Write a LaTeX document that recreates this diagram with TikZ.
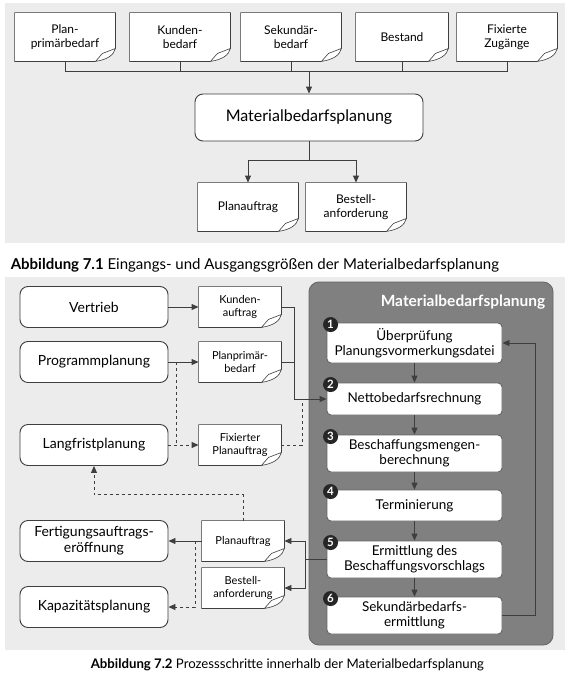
\documentclass[tikz,border=0pt]{standalone}
\usepackage{fontspec}
\setmainfont{Lato}
\usetikzlibrary{arrows.meta,calc,positioning}
\definecolor{paper}{RGB}{236,236,236}
\definecolor{ink}{RGB}{62,62,62}
\definecolor{mbpgray}{RGB}{128,128,128}

\begin{document}
\begin{tikzpicture}[x=1pt,y=-1pt,line width=.9pt,
box/.style={draw=ink,fill=white,rounded corners=8pt,align=center,minimum width=148pt,minimum height=41pt,font=\fontsize{14}{16}\selectfont},
stepbox/.style={draw=ink!80,fill=white,rounded corners=4pt,align=center,minimum width=175pt,inner sep=2pt,font=\fontsize{13.5}{15.5}\selectfont},
doc/.style={fill=white,align=center,inner sep=1pt},
bigdoc/.style={doc,minimum width=100pt,minimum height=48pt,font=\fontsize{12}{14}\selectfont},
smalldoc/.style={doc,minimum width=82pt,minimum height=40pt,font=\fontsize{11}{13}\selectfont},
num/.style={circle,fill=black!85,text=white,inner sep=0pt,minimum size=15pt,font=\bfseries\fontsize{11.5}{11.5}\selectfont},
arr/.style={draw=ink,-{Triangle[length=7pt,width=6pt]}},
ln/.style={draw=ink}]

\useasboundingbox (0,0) rectangle (573,688);
\fill[white] (0,0) rectangle (573,688);
\fill[paper] (5,3) rectangle (565,243);
\fill[paper] (5,277) rectangle (565,650);

% Abbildung 7.1
\node[bigdoc] (d1) at (65,37) {Plan-\\primärbedarf};
\node[bigdoc] (d2) at (180,37) {Kunden-\\bedarf};
\node[bigdoc] (d3) at (291,37) {Sekundär-\\bedarf};
\node[bigdoc,minimum width=92pt] (d4) at (402,37) {Bestand};
\node[bigdoc] (d5) at (507,37) {Fixierte\\Zugänge};
\node[box,minimum width=228pt,minimum height=47pt,font=\fontsize{16}{18}\selectfont] (mbp) at (309,117.5) {Materialbedarfsplanung};
\node[bigdoc] (o1) at (248,207) {Planauftrag};
\node[bigdoc] (o2) at (356,207) {Bestell-\\anforderung};

\draw[ln] (d1.south) -- ++(0,10) -| (d5.south);
\foreach \d in {d2,d3,d4}
  \draw[ln] (\d.south) -- ++(0,10);
\coordinate (j1) at (309,71);
\draw[arr] (j1) -- (mbp.north);
\draw[ln] (mbp.south) -- ++(0,19) coordinate (j2);
\draw[arr] (j2) -| (o1.north);
\draw[arr] (j2) -| (o2.north);

\node[anchor=west,font=\fontsize{15}{17}\selectfont] (cap1) at (7,265) {\textbf{Abbildung 7.1} Eingangs- und Ausgangsgrößen der Materialbedarfsplanung};

% Abbildung 7.2
\draw[draw=black!60,fill=mbpgray,rounded corners=10pt] (309,282) rectangle (553,645);
\node[anchor=east,text=white,font=\bfseries\fontsize{15.5}{17}\selectfont] (ttl) at (549,302) {Materialbedarfsplanung};

\node[box] (vertrieb) at (94,307) {Vertrieb};
\node[box] (prog) at (94,362) {Programmplanung};
\node[box] (langf) at (94,445) {Langfristplanung};
\node[box] (fert) at (94,541) {Fertigungsauftrags-\\eröffnung};
\node[box] (kap) at (94,607) {Kapazitätsplanung};

\node[smalldoc] (kauf) at (240,307) {Kunden-\\auftrag};
\node[smalldoc] (ppb) at (240,362) {Planprimär-\\bedarf};
\node[smalldoc] (fpa) at (240,445) {Fixierter\\Planauftrag};
\node[smalldoc] (pa) at (243,541) {Planauftrag};
\node[smalldoc] (ba) at (243,588) {Bestell-\\anforderung};

\node[stepbox,minimum height=40pt] (s1) at (414.5,343) {Überprüfung\\Planungsvormerkungsdatei};
\node[stepbox,minimum height=32pt] (s2) at (414.5,399) {Nettobedarfsrechnung};
\node[stepbox,minimum height=37pt] (s3) at (414.5,453.5) {Beschaffungsmengen-\\berechnung};
\node[stepbox,minimum height=31pt] (s4) at (414.5,505.5) {Terminierung};
\node[stepbox,minimum height=37pt] (s5) at (414.5,559.5) {Ermittlung des\\Beschaffungsvorschlags};
\node[stepbox,minimum height=37pt] (s6) at (414.5,615.5) {Sekundärbedarfs-\\ermittlung};
\foreach \i in {1,...,6}
  \node[num] (n\i) at ($(s\i.north west)+(4,2)$) {\i};

% page corners
\foreach \d in {d1,d2,d3,d4,d5,o1,o2,kauf,ppb,fpa,pa,ba} {
  \fill[paper] ($(\d.south east)+(-20,0)$) .. controls ($(\d.south east)+(-8,-2)$) and ($(\d.south east)+(-2,-6)$) .. ($(\d.south east)+(0,-13)$) -- (\d.south east) -- cycle;
  \draw[ink,line width=.6pt] ($(\d.south east)+(0,-13)$) -- (\d.north east) -- (\d.north west) -- (\d.south west) -- ($(\d.south east)+(-20,0)$) .. controls ($(\d.south east)+(-8,-2)$) and ($(\d.south east)+(-2,-6)$) .. ($(\d.south east)+(0,-13)$) -- ($(\d.south east)+(-13,-8)$) -- ($(\d.south east)+(-20,0)$);
}

\draw[arr] (vertrieb) -- (kauf);
\draw[arr] (prog) -- (ppb);
\draw[arr,dashed] (langf) -- (fpa);
\coordinate (pd) at (176,362);
\draw[ln,dashed] (pd) -- (pd |- fpa.west);
\coordinate (jn) at (294,399);
\draw[ln] (kauf.east) -| (jn);
\draw[ln] (ppb.east) -| (jn);
\draw[arr] (jn) -- (s2.west);
\coordinate (jd) at (302,399);
\draw[ln,dashed] (fpa.east) -| (jd);
\foreach \a/\b in {s1/s2,s2/s3,s3/s4,s4/s5,s5/s6}
  \draw[arr] (\a.south) -- (\b.north);
\draw[arr] (s6.east) -- ++(33,0) |- (s1.east);
\draw[ln] (s5.west) -- ++(-21,0) coordinate (j5);
\draw[arr] (j5) |- (pa.east);
\draw[arr] (j5) |- (ba.east);
\draw[arr] (pa) -- (fert);
\coordinate (pk) at (195,541);
\draw[arr,dashed] (pk) |- (kap.east);
\draw[arr,dashed] (pa.north) -- ++(0,-26) -| (langf.south);

\node[anchor=west,font=\fontsize{13.2}{15}\selectfont] (cap2) at (87,665) {\textbf{Abbildung 7.2} Prozessschritte innerhalb der Materialbedarfsplanung};
\end{tikzpicture}
\end{document}
